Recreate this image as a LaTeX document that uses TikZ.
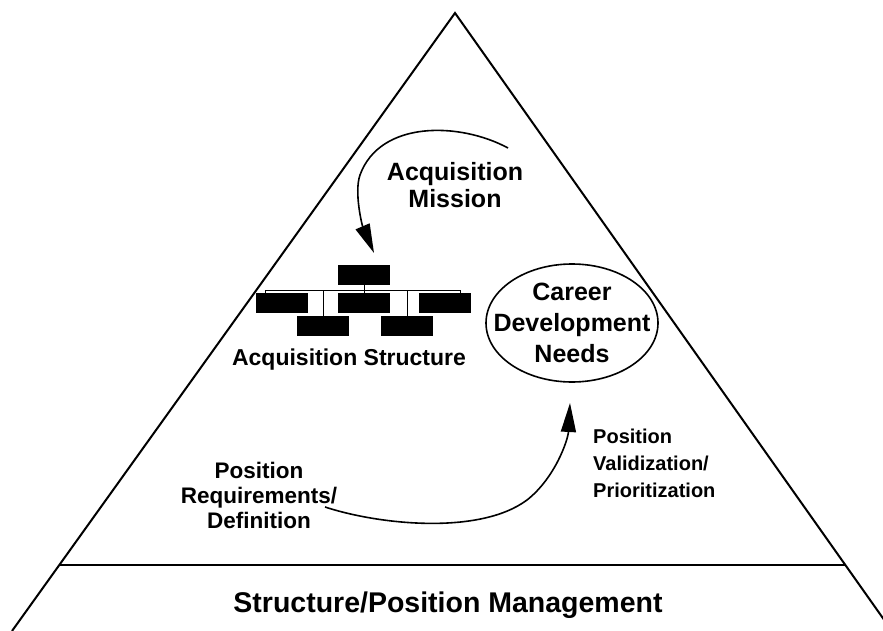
\documentclass[tikz,border=0pt]{standalone}
\usepackage{fontspec}
\setmainfont{Liberation Sans}
\usetikzlibrary{positioning,shapes.geometric,arrows.meta,calc}

\begin{document}
\begin{tikzpicture}[x=1pt,y=-1pt]
    \tikzset{
        orgbox/.style={fill=black,minimum width=52pt,minimum height=20pt,inner sep=0pt},
        lbl/.style={font=\fontsize{23}{27}\selectfont\bfseries,align=center,inner sep=0pt},
        flow/.style={line width=1.6pt,-{Triangle[length=29pt,width=15pt]}},}
    \useasboundingbox (0,0) rectangle (883,631);
    \clip (0,0) rectangle (883,631);
    % pyramid
    \coordinate (apex) at (455,13);
    \coordinate (bl) at (12,631);
    \coordinate (br) at (892,631);
    \draw [line width=2pt] (bl) -- (apex) -- (br);
    \draw [line width=2pt] ($(apex)!0.8932!(bl)$) -- ($(apex)!0.8932!(br)$);
    \node [lbl,font=\fontsize{28.5}{34}\selectfont\bfseries,anchor=base] (mgmt) at (448,612) {Structure/Position Management};
    % org chart
    \node [orgbox] (boss) at (364,275) {};
    \node [orgbox] (unitL) at (282,303) {};
    \node [orgbox] (unitC) at (364,303) {};
    \node [orgbox] (unitR) at (445,303) {};
    \node [orgbox] (subL) at (323,326) {};
    \node [orgbox] (subR) at (407,326) {};
    \coordinate (busL) at (265,290);
    \coordinate (busR) at (460,290);
    \draw [line width=0.9pt] (busL |- unitL.north) -- (busL) -- (busR) -- (busR |- unitR.north);
    \draw [line width=0.9pt] (boss.south) -- (unitC.north);
    \draw [line width=0.9pt] (subL.north) -- (subL |- busL);
    \draw [line width=0.9pt] (subR.north) -- (subR |- busL);
    \node [lbl,anchor=base] (structure) at (349,365) {Acquisition Structure};
    % needs
    \node [lbl,font=\fontsize{25}{31}\selectfont\bfseries] (needs) at (572,323) {Career\\Development\\Needs};
    \draw [line width=1.6pt] (needs.center) ellipse [x radius=86, y radius=59];
    % labels
    \node [lbl,font=\fontsize{25}{27}\selectfont\bfseries] (mission) at (455,185) {Acquisition\\Mission};
    \node [lbl,font=\fontsize{22.5}{25}\selectfont\bfseries] (require) at (259,495) {Position\\Requirements/\\Definition};
    \node [lbl,font=\fontsize{20}{27}\selectfont\bfseries,align=left,anchor=base west] (valid) at (593,497) {Position\\Validization/\\Prioritization};
    % arrows
    \coordinate (m1) at (508,148);
    \coordinate (m2) at (374,253);
    \coordinate (p1) at (325,507);
    \coordinate (p2) at (570,403);
    \draw [flow] (m1) .. controls (460,122) and (380,120) .. (360,175) .. controls (354,192) and (362,225) .. (m2);
    \draw [flow] (p1) .. controls (380,525) and (480,535) .. (527,500) .. controls (555,478) and (568,440) .. (p2);
\end{tikzpicture}
\end{document}
